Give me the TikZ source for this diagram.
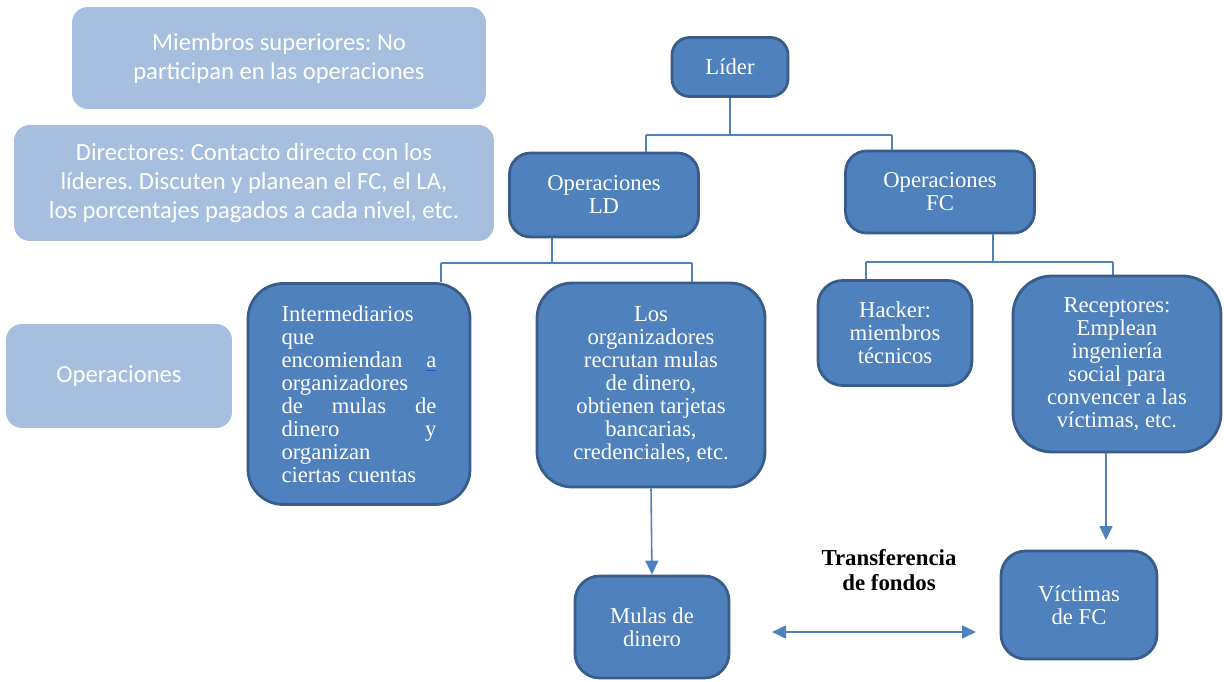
\documentclass[tikz,border=0pt]{standalone}
\usepackage{fontspec}
\setmainfont{Liberation Serif}
\newfontfamily\lightfont{Carlito}
\usepackage{xcolor}
\usetikzlibrary{arrows.meta, positioning}
\frenchspacing

\definecolor{lightblue}{HTML}{A7BFDE}
\definecolor{midblue}{HTML}{4F81BD}
\definecolor{edgeblue}{HTML}{385D8A}

\begin{document}
\begin{tikzpicture}[
    x=0.02cm, y=-0.02cm,
    lightbox/.style={rectangle, rounded corners=9pt, fill=lightblue, draw=none, text=white, align=center, inner sep=0pt, font=\lightfont\fontsize{14}{16.5}\selectfont},
    darkbox/.style={rectangle, rounded corners=10pt, fill=midblue, draw=edgeblue, line width=1.6pt, text=white, align=center, inner sep=0pt, font=\fontsize{12.9}{13.1}\selectfont},
    line/.style={draw=midblue, line width=0.9pt},
    arrow/.style={draw=midblue, line width=0.9pt, -{Triangle[length=2.8mm, width=2.6mm]}}
]
    \useasboundingbox (0,0) rectangle (1224,682);

    % Side notes
    \node[lightbox, minimum width=8.28cm, minimum height=2.04cm] (members) at (279,58) {Miembros superiores: No\\participan en las operaciones};
    \node[lightbox, minimum width=9.6cm, minimum height=2.32cm] (directors) at (254,183) {Directores: Contacto directo con los\\líderes. Discuten y planean el FC, el LA,\\los porcentajes pagados a cada nivel, etc.};
    \node[lightbox, minimum width=4.52cm, minimum height=2.08cm] (operations) at (119,376) {Operaciones};

    % Hierarchy
    \node[darkbox, minimum width=2.32cm, minimum height=1.18cm] (leader) at (730,67) {Líder};
    \node[darkbox, rounded corners=12pt, minimum width=3.78cm, minimum height=1.68cm] (op_ld) at (604,195) {Operaciones\\LD};
    \node[darkbox, rounded corners=12pt, minimum width=3.78cm, minimum height=1.64cm] (op_fc) at (940,192) {Operaciones\\FC};
    \node[darkbox, rounded corners=20pt, minimum width=4.44cm, minimum height=4.42cm, text width=3.1cm, align=left] (brokers) at (359,394) {Intermediarios\\que\\encomiendan\hfill{\color{midblue!60!blue}\underline{\color{white}a}}\\organizadores\\de\hfill mulas\hfill de\\dinero\hfill y\\organizan\\ciertas cuentas};
    \node[darkbox, rounded corners=20pt, minimum width=4.56cm, minimum height=4.08cm] (organizers) at (651,385) {Los\\organizadores\\recrutan mulas\\de dinero,\\obtienen tarjetas\\bancarias,\\credenciales, etc.};
    \node[darkbox, rounded corners=14pt, minimum width=3.08cm, minimum height=2.1cm] (hacker) at (895,333) {Hacker:\\miembros\\técnicos};
    \node[darkbox, rounded corners=22pt, minimum width=4.16cm, minimum height=3.52cm] (receivers) at (1117,364) {Receptores:\\Emplean\\ingeniería\\social para\\convencer a las\\víctimas, etc.};
    \node[darkbox, rounded corners=14pt, minimum width=3.08cm, minimum height=2.04cm] (mules) at (652,627) {Mulas de\\dinero};
    \node[darkbox, rounded corners=14pt, minimum width=3.12cm, minimum height=2.16cm] (victims) at (1079,605) {Víctimas\\de FC};
    \node[font=\bfseries\fontsize{13}{14}\selectfont, align=center] (transfer) at (889,570) {Transferencia\\de fondos};

    % Connectors
    \coordinate (top_l) at (646,135);
    \coordinate (top_r) at (892,135);
    \draw[line] (leader.south) -- (leader.south |- top_l);
    \draw[line] (top_l) -- (top_r);
    \draw[line] (top_l) -- (top_l |- op_ld.north);
    \draw[line] (top_r) -- (top_r |- op_fc.north);

    \coordinate (ld_d) at (552,263);
    \coordinate (ld_l) at (441,263);
    \coordinate (ld_r) at (692,263);
    \draw[line] (ld_d |- op_ld.south) -- (ld_d);
    \draw[line] (ld_l) -- (ld_r);
    \draw[line] (ld_l) -- (ld_l |- brokers.north);
    \draw[line] (ld_r) -- (ld_r |- organizers.north);

    \coordinate (fc_d) at (993,262);
    \coordinate (fc_l) at (866,262);
    \coordinate (fc_r) at (1113,262);
    \draw[line] (fc_d |- op_fc.south) -- (fc_d);
    \draw[line] (fc_l) -- (fc_r);
    \draw[line] (fc_l) -- (fc_l |- hacker.north);
    \draw[line] (fc_r) -- (fc_r |- receivers.north);

    \draw[arrow] (organizers.south) -- (mules.north);
    \coordinate (vic_in) at (1106,540);
    \draw[arrow] (vic_in |- receivers.south) -- (vic_in);
    \coordinate (tr_a) at (772,632);
    \coordinate (tr_b) at (976,632);
    \draw[arrow, {Triangle[length=2.8mm, width=2.6mm]}-{Triangle[length=2.8mm, width=2.6mm]}] (tr_a) -- (tr_b);
\end{tikzpicture}
\end{document}
